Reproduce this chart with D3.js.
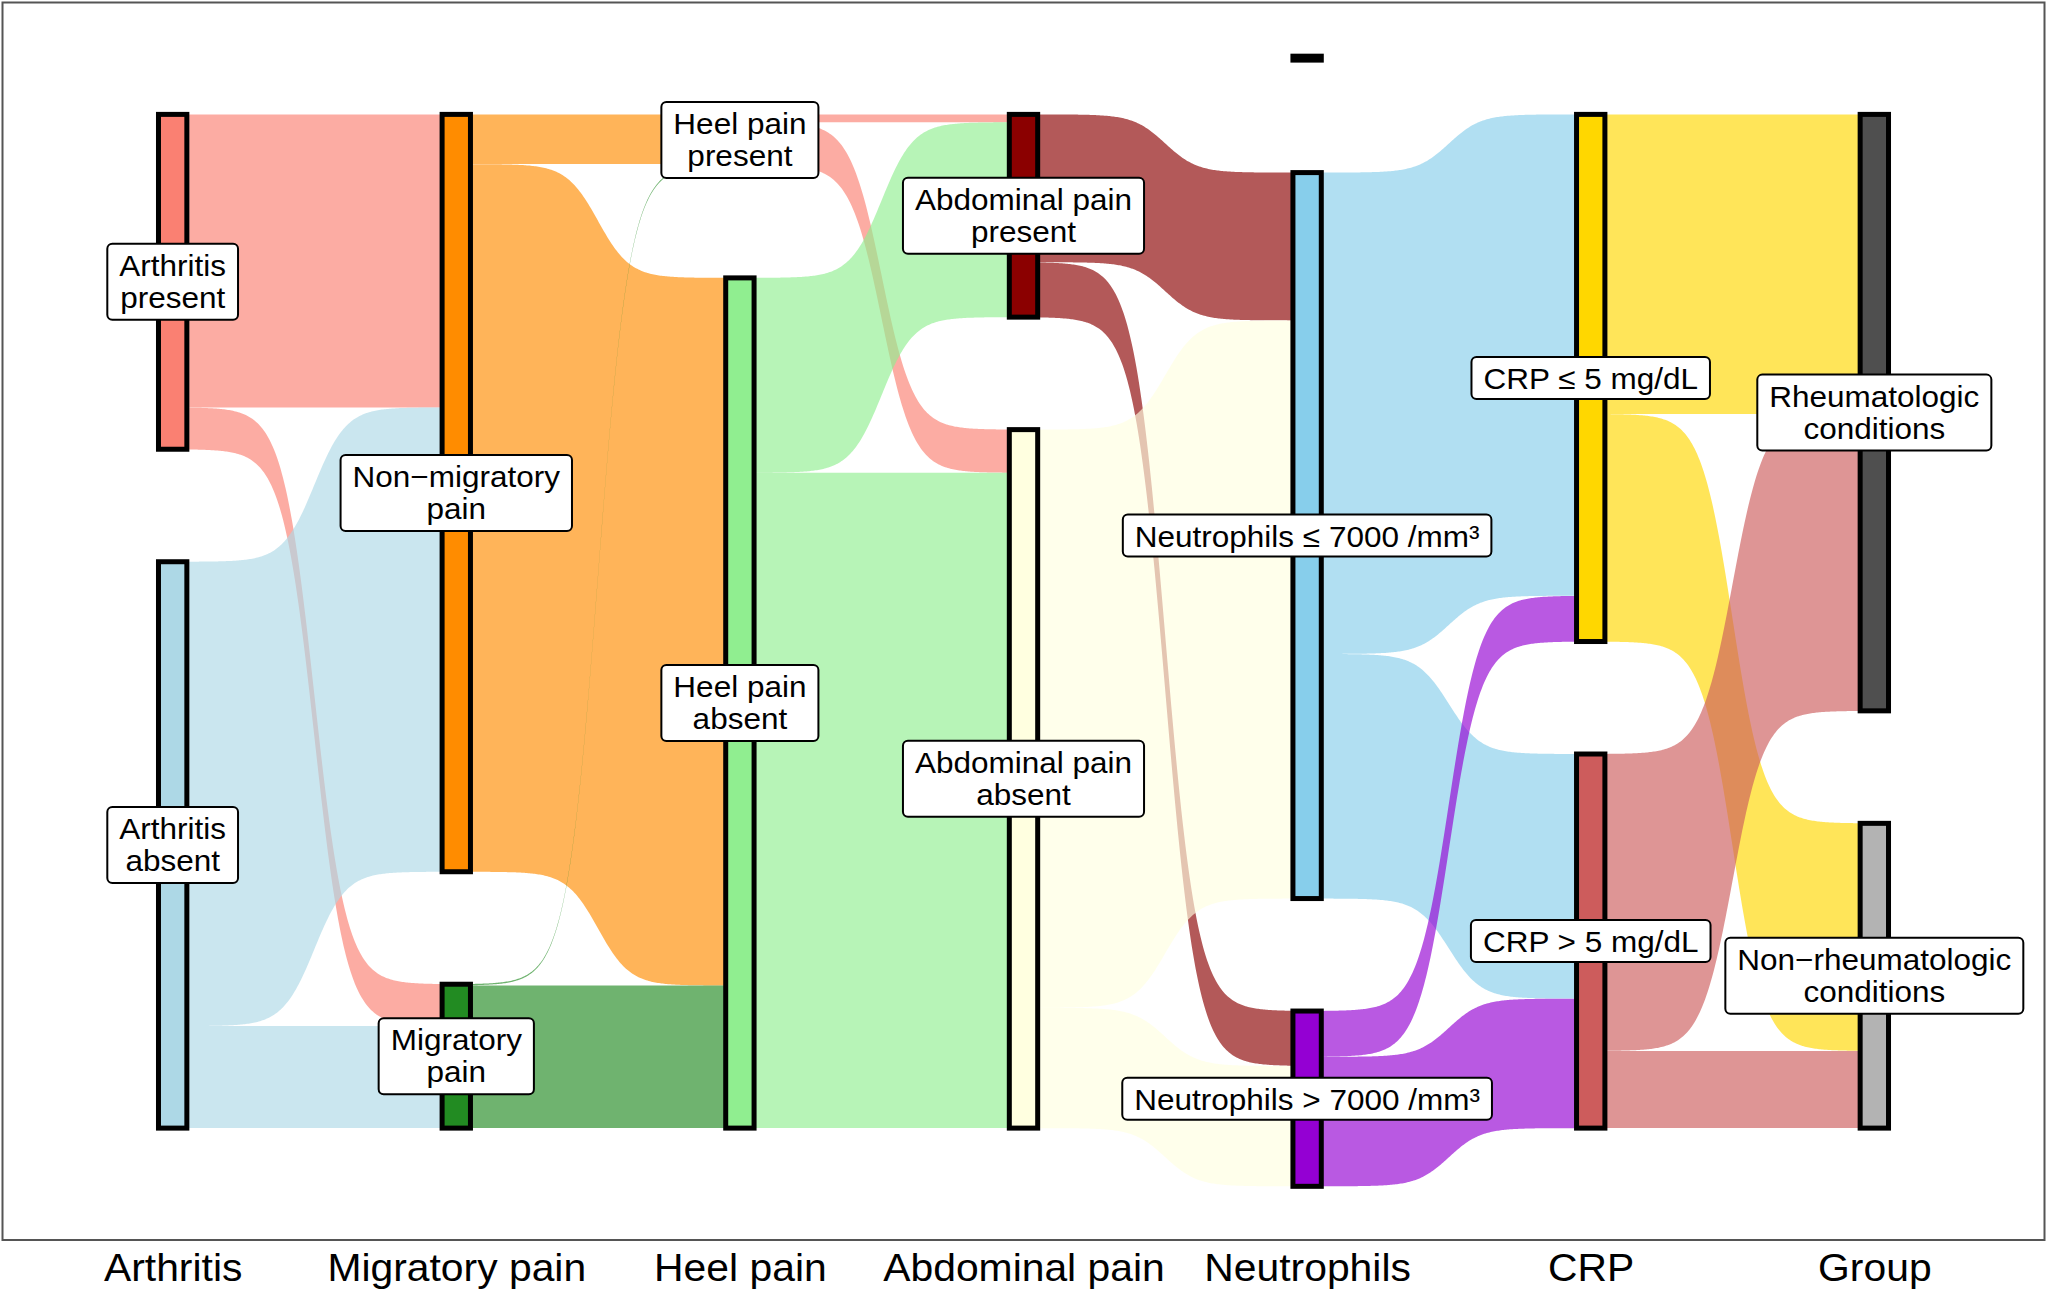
<!DOCTYPE html>
<html><head><meta charset="utf-8">
<script src="https://cdn.jsdelivr.net/npm/d3@7"></script>
<style>
html,body{margin:0;padding:0;background:#fff}
svg{display:block}
text{font-family:"Liberation Sans",Arial,Helvetica,sans-serif;fill:#000}
</style>
</head><body>
<svg id="chart" width="2049" height="1296"></svg>
<script>
// ---------------- DATA ----------------
const axisTitles = ["Arthritis", "Migratory pain", "Heel pain", "Abdominal pain", "Neutrophils", "CRP", "Group"];

// strata of each axis, top to bottom
const arthritisNodes  = ["Arthritis\npresent", "Arthritis\nabsent"];
const migratoryNodes  = ["Non\u2212migratory\npain", "Migratory\npain"];
const heelNodes       = ["Heel pain\npresent", "Heel pain\nabsent"];
const abdominalNodes  = ["Abdominal pain\npresent", "Abdominal pain\nabsent"];
const neutrophilNodes = ["", "Neutrophils \u2264 7000 /mm\u00B3", "Neutrophils > 7000 /mm\u00B3"];
const crpNodes        = ["CRP \u2264 5 mg/dL", "CRP > 5 mg/dL"];
const groupNodes      = ["Rheumatologic\nconditions", "Non\u2212rheumatologic\nconditions"];

const arthritisColors  = ["#FA8072", "#ADD8E6"];
const migratoryColors  = ["#FF8C00", "#228B22"];
const heelColors       = ["#FA8072", "#90EE90"];
const abdominalColors  = ["#8B0000", "#FFFFE0"];
const neutrophilColors = ["#000000", "#87CEEB", "#9400D3"];
const crpColors        = ["#FFD700", "#CD5C5C"];
const groupColors      = ["#4F4F4F", "#B3B3B3"];

// flows between consecutive axes: [source stratum index, target stratum index, estimated size]
const flowsArthritisToMigratory = [[0, 0, 224], [0, 1, 32], [1, 0, 355], [1, 1, 78]];
const flowsMigratoryToHeel      = [[0, 0, 38], [0, 1, 541], [1, 0, 1], [1, 1, 109]];
const flowsHeelToAbdominal      = [[0, 0, 6], [0, 1, 33], [1, 0, 149], [1, 1, 501]];
const flowsAbdominalToNeutro    = [[0, 1, 113], [0, 2, 42], [1, 1, 442], [1, 2, 92]];
const flowsNeutroToCrp          = [[1, 0, 368], [1, 1, 187], [2, 0, 35], [2, 1, 99]];
const flowsCrpToGroup           = [[0, 0, 229], [0, 1, 174], [1, 0, 227], [1, 1, 59]];

// stratum without any flow (missing neutrophil value)
const neutrophilsMissingSize = 3;

// ---------------- LAYOUT ----------------
const W = 2049, H = 1296;
const panel = {left: 2.5, top: 2.5, right: 2044.5, bottom: 1240};
const gap = 86;             // space between strata (data units)
const flowAlpha = 0.65;
const smooth = 8;

const columns = [arthritisNodes, migratoryNodes, heelNodes, abdominalNodes, neutrophilNodes, crpNodes, groupNodes];
const colColors = [arthritisColors, migratoryColors, heelColors, abdominalColors, neutrophilColors, crpColors, groupColors];
const flowSets = [flowsArthritisToMigratory, flowsMigratoryToHeel, flowsHeelToAbdominal, flowsAbdominalToNeutro, flowsNeutroToCrp, flowsCrpToGroup];
const extraSizes = {"4-0": neutrophilsMissingSize};

const nodes = columns.map((names, ci) => {
  const list = names.map((name, ni) => {
    const inSum = ci > 0 ? d3.sum(flowSets[ci - 1].filter(f => f[1] === ni), f => f[2]) : 0;
    const outSum = ci < flowSets.length ? d3.sum(flowSets[ci].filter(f => f[0] === ni), f => f[2]) : 0;
    let v = Math.max(inSum, outSum);
    if (v === 0) v = extraSizes[ci + "-" + ni] || 0;
    return {name, ci, ni, value: v, color: colColors[ci][ni]};
  });
  const total = d3.sum(list, d => d.value) + gap * (list.length - 1);
  let y = -total / 2;
  list.forEach(n => { n.y0 = y; n.y1 = y + n.value; y = n.y1 + gap; });
  return list;
});

const maxHalf = d3.max(nodes, col => (d3.sum(col, d => d.value) + gap * (col.length - 1)) / 2);
const D = maxHalf * 1.095;

const x = d3.scalePoint().domain(axisTitles).range([panel.left, panel.right]).padding(0.6);
const y = d3.scaleLinear().domain([-D, D]).range([panel.top, panel.bottom]);
const nodeW = x.step() * 0.1;

// flows geometry
const flows = [];
flowSets.forEach((set, si) => {
  const src = nodes[si], tgt = nodes[si + 1];
  const outOff = src.map(n => n.y0), inOff = tgt.map(n => n.y0);
  // outgoing ordered by target, incoming ordered by source
  const byOut = set.slice().sort((a, b) => a[0] - b[0] || a[1] - b[1]);
  const outPos = new Map();
  byOut.forEach(f => { outPos.set(f, outOff[f[0]]); outOff[f[0]] += f[2]; });
  const byIn = set.slice().sort((a, b) => a[1] - b[1] || a[0] - b[0]);
  const inPos = new Map();
  byIn.forEach(f => { inPos.set(f, inOff[f[1]]); inOff[f[1]] += f[2]; });
  set.forEach(f => {
    flows.push({
      x0: x(axisTitles[si]) + nodeW / 2,
      x1: x(axisTitles[si + 1]) - nodeW / 2,
      s0: outPos.get(f), t0: inPos.get(f), v: f[2],
      color: src[f[0]].color
    });
  });
});

function flowPoints(f) {
  const n = 200, pts = [];
  for (let i = 0; i < n; i++) {
    const t = -smooth + (2 * smooth) * i / (n - 1);
    const s = Math.exp(t) / (Math.exp(t) + 1);
    const xx = f.x0 + (f.x1 - f.x0) * i / (n - 1);
    const top = f.s0 + (f.t0 - f.s0) * s;
    pts.push({x: xx, y0: y(top), y1: y(top + f.v)});
  }
  return pts;
}

const svg = d3.select("#chart");
svg.append("rect").attr("width", W).attr("height", H).attr("fill", "#fff");

const area = d3.area().x(d => d.x).y0(d => d.y0).y1(d => d.y1);
svg.append("g").selectAll("path").data(flows).join("path")
  .attr("d", d => area(flowPoints(d)))
  .attr("fill", d => d.color)
  .attr("fill-opacity", flowAlpha);

// strata
const allNodes = nodes.flat();
svg.append("g").selectAll("rect").data(allNodes).join("rect")
  .attr("x", d => x(axisTitles[d.ci]) - nodeW / 2)
  .attr("y", d => y(d.y0))
  .attr("width", nodeW)
  .attr("height", d => Math.max(0.5, y(d.y1) - y(d.y0)))
  .attr("fill", d => d.color)
  .attr("stroke", "#000")
  .attr("stroke-width", 5);

// labels
const labelFont = 30, labelStretch = 1.05, lineH = 32, padX = 12;
const lg = svg.append("g");
allNodes.filter(d => d.name).forEach(d => {
  const lines = d.name.split("\n");
  const g = lg.append("g").attr("transform", `translate(${x(axisTitles[d.ci])},${y((d.y0 + d.y1) / 2)})`);
  const h = lineH * lines.length + 10 + (lines.length - 1) * 2;
  const rect = g.append("rect");
  const tg = g.append("g").attr("transform", `scale(${labelStretch},1)`);
  let maxW = 0;
  lines.forEach((ln, i) => {
    const t = tg.append("text")
      .attr("text-anchor", "middle")
      .attr("x", 0)
      .attr("y", -h / 2 + lineH * (i + 1))
      .style("font-size", labelFont + "px")
      .text(ln);
    maxW = Math.max(maxW, t.node().getComputedTextLength());
  });
  const bw = maxW * labelStretch + 2 * padX;
  rect.attr("x", -bw / 2).attr("y", -h / 2).attr("width", bw).attr("height", h)
    .attr("rx", 5).attr("ry", 5)
    .attr("fill", "#fff").attr("stroke", "#000").attr("stroke-width", 2);
});

// panel border
svg.append("rect")
  .attr("x", panel.left).attr("y", panel.top)
  .attr("width", panel.right - panel.left).attr("height", panel.bottom - panel.top)
  .attr("fill", "none").attr("stroke", "#555").attr("stroke-width", 2);

// axis titles (bottom)
const xAxis = d3.axisBottom(x).tickSize(0).tickPadding(0);
const ax = svg.append("g").attr("transform", `translate(0,${panel.bottom})`).call(xAxis);
ax.select(".domain").remove();
ax.selectAll(".tick text")
  .attr("y", 0).attr("dy", 0)
  .attr("transform", "translate(0,41) scale(1.075,1)")
  .attr("fill", "#000")
  .style("font-size", "38px")
  .style("font-family", "\"Liberation Sans\",Arial,sans-serif");
</script>
</body></html>
